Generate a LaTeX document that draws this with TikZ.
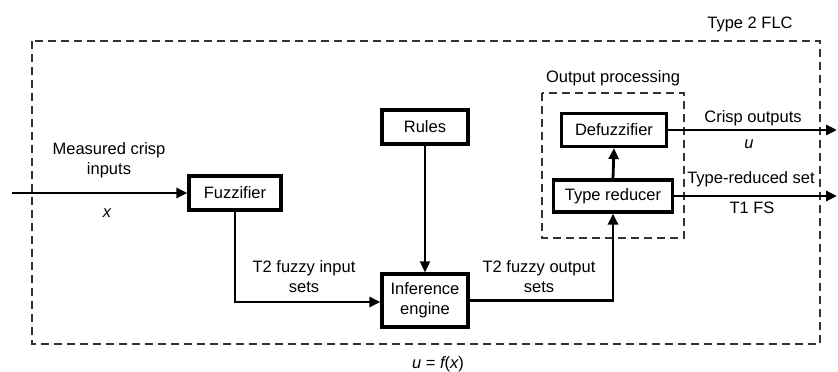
\documentclass[tikz,border=0pt]{standalone}
\usepackage{fontspec}
\setmainfont{Liberation Sans}
\usetikzlibrary{arrows.meta}
\begin{document}
\begin{tikzpicture}[x=1pt,y=-1pt,
  every node/.style={font=\fontsize{16.5}{20}\selectfont, inner sep=0pt, align=center},
  blockbox/.style={draw, line width=3.2pt, minimum height=34pt},
  conn/.style={line width=2.8pt, -{Triangle[length=11pt,width=10pt]}},
  thinconn/.style={line width=1.8pt, -{Triangle[length=11pt,width=10pt]}},
  outerdash/.style={line width=2pt, dash pattern=on 8pt off 5pt, draw=black!80},
  lbl/.style={}]
\useasboundingbox (0,0) rectangle (838,372);
% outer dashed box
\draw[outerdash] (32,41) rectangle (820,344);
\node[lbl] (t2flc) at (750,24) {Type 2 FLC};
% output processing box
\draw[outerdash, line width=1.8pt] (542,93) rectangle (684,238);
\node[lbl] (oplabel) at (613,78) {Output processing};
% blocks
\node[blockbox, minimum width=92pt] (fuzz) at (235,193) {Fuzzifier};
\node[blockbox, minimum width=86pt] (rules) at (425,127) {Rules};
\node[blockbox, minimum width=86pt, minimum height=53pt] (inf) at (425,300.5) {Inference\\engine};
\node[blockbox, minimum width=119pt, minimum height=32pt] (tr) at (613,196) {Type reducer};
\node[blockbox, minimum width=105pt, minimum height=33pt] (defuz) at (614,130) {Defuzzifier};
% coordinates
\coordinate (inp) at (12,193);
\coordinate (crisp) at (837,130);
\coordinate (trout) at (837,196);
% connectors
\draw[conn] (inp) -- (fuzz.west);
\draw[conn] (fuzz.south) |- (inf.west |- 0,302);
\draw[thinconn] (rules.south) -- (inf.north);
\draw[conn] (inf.east) -| (tr.south);
\draw[conn] (tr.north) -- (defuz.south);
\draw[conn] (defuz.east) -- (crisp);
\draw[conn] (tr.east) -- (trout);
% labels
\node[lbl] (mci) at (109,160) {Measured crisp\\inputs};
\node[lbl] (xl) at (107,213) {\itshape x};
\node[lbl] (t2in) at (304,277) {T2 fuzzy input\\sets};
\node[lbl] (t2out) at (539,277) {T2 fuzzy output\\sets};
\node[lbl] (crispl) at (753,118) {Crisp outputs};
\node[lbl] (ul) at (749,144) {\itshape u};
\node[lbl] (trsl) at (751,179) {Type-reduced set};
\node[lbl] (t1fs) at (752,208) {T1 FS};
\node[lbl] (ufx) at (438,364) {\itshape u\upshape{} = \itshape f\upshape(\itshape x\upshape)};
\end{tikzpicture}
\end{document}
